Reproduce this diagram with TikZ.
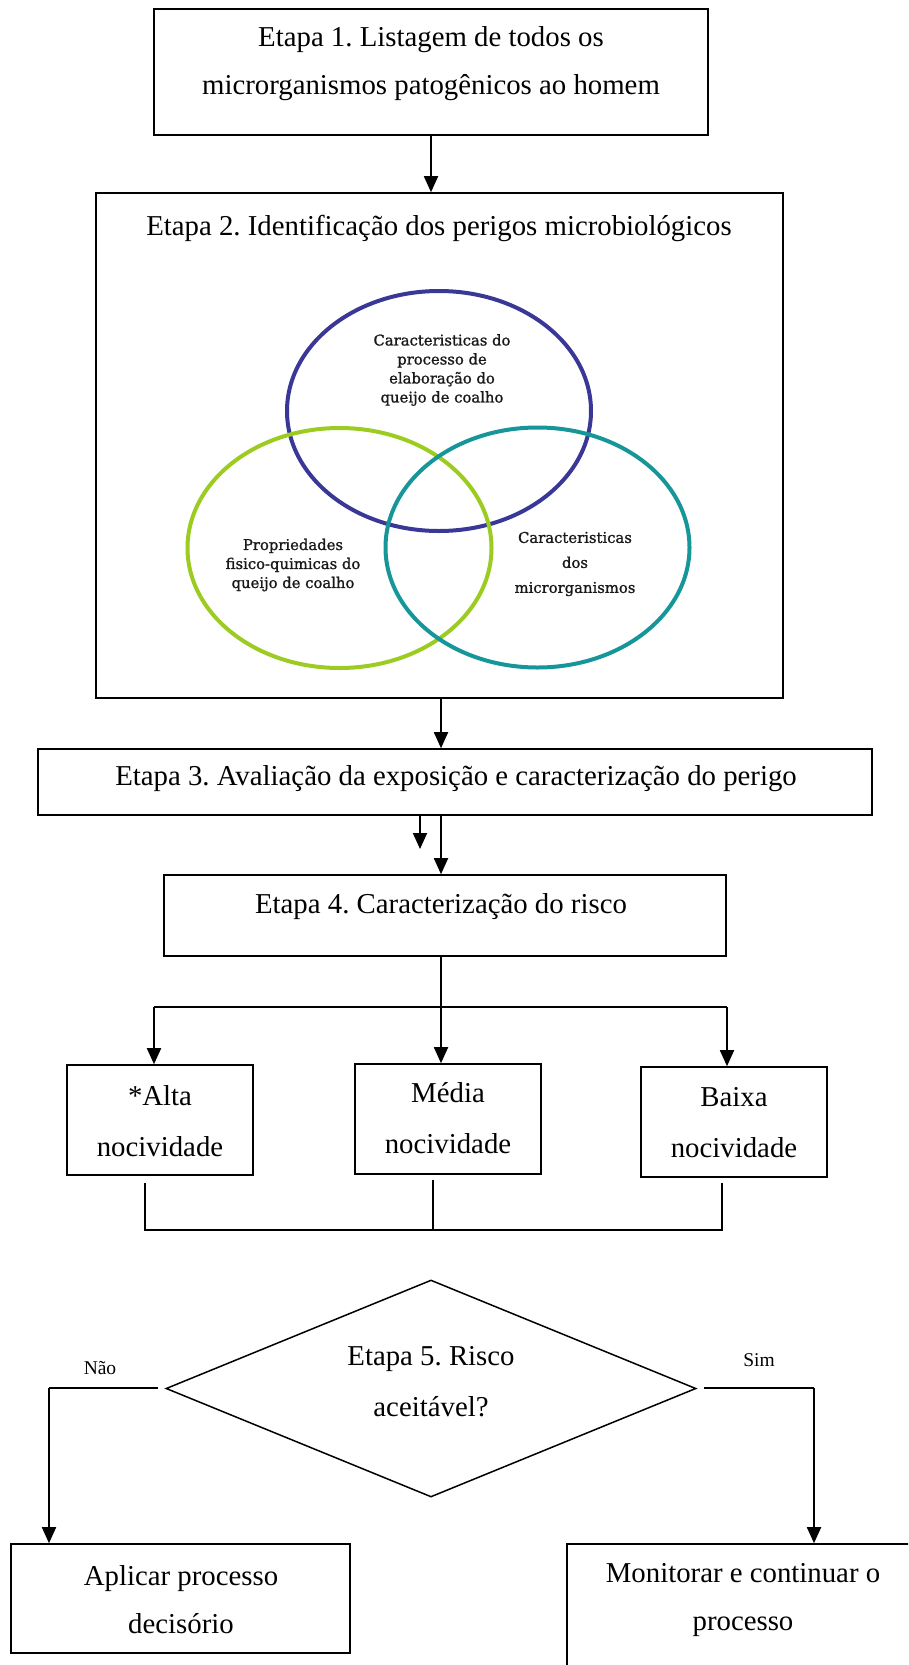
\documentclass[tikz,border=0pt]{standalone}
\usepackage{fontspec}
\setmainfont{Liberation Serif}
\newfontfamily\vennfont[FakeBold=1.2]{DejaVu Serif}
\usetikzlibrary{arrows.meta,shapes.geometric}
\definecolor{vblue}{RGB}{58,56,150}
\definecolor{vgreen}{RGB}{156,204,34}
\definecolor{vteal}{RGB}{22,150,152}
\frenchspacing
\begin{document}
\frenchspacing
\begin{tikzpicture}[x=1pt,y=-1pt,
  box/.style={draw, line width=1.6pt, inner sep=0pt, rectangle},
  txt/.style={inner sep=0pt, align=center, font=\frenchspacing\fontsize{28.8pt}{48pt}\selectfont},
  txtb/.style={inner sep=0pt, align=center, font=\frenchspacing\fontsize{28.8pt}{51pt}\selectfont},
  small/.style={inner sep=0pt, font=\fontsize{19.5pt}{22pt}\selectfont},
  venn/.style={draw, ellipse, line width=4pt, minimum width=304pt, minimum height=240pt, inner sep=0pt},
  vtxt/.style={inner sep=0pt, align=center, text=black!90, font=\vennfont\fontsize{14.8pt}{19pt}\selectfont},
  arr/.style={line width=1.8pt, -{Triangle[width=14pt,length=16pt]}},
  ln/.style={line width=1.5pt},
  thin/.style={line width=1.3pt}]
\useasboundingbox (0,0) rectangle (908,1665);
\clip (0,0) rectangle (908,1665);

% Box 1
\node[box, minimum width=554pt, minimum height=126pt] (b1) at (431,72) {};
\node[txt] (t1) at (431,64) {Etapa 1. Listagem de todos os\\microrganismos patogênicos ao homem};

% Box 2
\node[box, minimum width=687pt, minimum height=505pt] (b2) at (439.5,445.5) {};
\node[txt] (t2) at (439,228) {Etapa 2. Identificação dos perigos microbiológicos};

% Venn
\node[venn, vblue] (v1) at (439,411) {};
\node[venn, vgreen] (v2) at (339.5,548) {};
\node[venn, vteal] (v3) at (537.5,547.5) {};
\node[vtxt] (vt1) at (442,370) {Caracteristicas do\\processo de\\elaboração do\\queijo de coalho};
\node[vtxt] (vt2) at (293,565) {Propriedades\\fisico-quimicas do\\queijo de coalho};
\node[vtxt, font=\vennfont\fontsize{14.8pt}{25pt}\selectfont] (vt3) at (575,564) {Caracteristicas\\dos\\microrganismos};

% Box 3
\node[box, minimum width=834pt, minimum height=66pt] (b3) at (455,782) {};
\node[txt] (t3) at (456,779) {Etapa 3. Avaliação da exposição e caracterização do perigo};

% Box 4
\node[box, minimum width=562pt, minimum height=81pt] (b4) at (445,915.5) {};
\node[txt] (t4) at (441,907) {Etapa 4. Caracterização do risco};

% Nocividade boxes
\node[box, minimum width=186pt, minimum height=110pt] (alta) at (160,1120) {};
\node[txtb] (ta) at (160,1121) {*Alta\\nocividade};
\node[box, minimum width=186pt, minimum height=110pt] (media) at (448,1119) {};
\node[txtb] (tm) at (448,1118) {Média\\nocividade};
\node[box, minimum width=186pt, minimum height=110pt] (baixa) at (734,1122) {};
\node[txtb] (tb) at (734,1123) {Baixa\\nocividade};

% Diamond
\node[draw, diamond, line width=1.5pt, aspect=2.442, minimum width=530pt, minimum height=217pt, inner sep=0pt] (dia) at (431,1388.5) {};
\node[txtb] (td) at (431,1382) {Etapa 5. Risco\\aceitável?};

% Bottom boxes
\node[box, minimum width=339pt, minimum height=109pt] (apl) at (180.5,1598.5) {};
\node[txt] (tap) at (181,1600) {Aplicar processo\\decisório};
\node[box, minimum width=363pt, minimum height=160pt] (mon) at (748.5,1624) {};
\node[txt] (tmo) at (743,1600) {Monitorar e continuar o\\processo};

% Labels
\node[small] (nao) at (100,1368) {Não};
\node[small] (sim) at (759,1360) {Sim};

% Connectors
\draw[arr] (b1.south) -- (b1.south |- b2.north);
\coordinate (a23) at (441,698);
\draw[arr] (a23) -- (a23 |- b3.north);
\coordinate (a34) at (441,815);
\draw[arr] (a34) -- (a34 |- b4.north);
\coordinate (s34) at (420,815);
\coordinate (s34e) at (420,849);
\draw[arr] (s34) -- (s34e);

\coordinate (sp) at (441,1007);
\coordinate (h1) at (154,1007);
\coordinate (h3) at (727,1007);
\draw[ln] (sp |- b4.south) -- (sp);
\draw[ln] (h1) -- (h3);
\draw[arr] (h1) -- (h1 |- alta.north);
\draw[arr] (sp) -- (sp |- media.north);
\draw[arr] (h3) -- (h3 |- baixa.north);

% Bracket
\coordinate (k1) at (145,1183);
\coordinate (k2) at (433,1180);
\coordinate (k3) at (722,1183);
\coordinate (kb) at (145,1230);
\draw[thin] (k1) -- (kb) -- (kb -| k3) -- (k3);
\draw[thin] (k2) -- (k2 |- kb);

% Decision branches
\coordinate (nL) at (158,1388);
\coordinate (nC) at (49,1388);
\draw[ln] (nL) -- (nC);
\draw[arr] (nC) -- (nC |- apl.north);
\coordinate (sL) at (704,1388);
\coordinate (sC) at (814,1388);
\draw[ln] (sL) -- (sC);
\draw[arr] (sC) -- (sC |- mon.north);
\end{tikzpicture}
\end{document}
